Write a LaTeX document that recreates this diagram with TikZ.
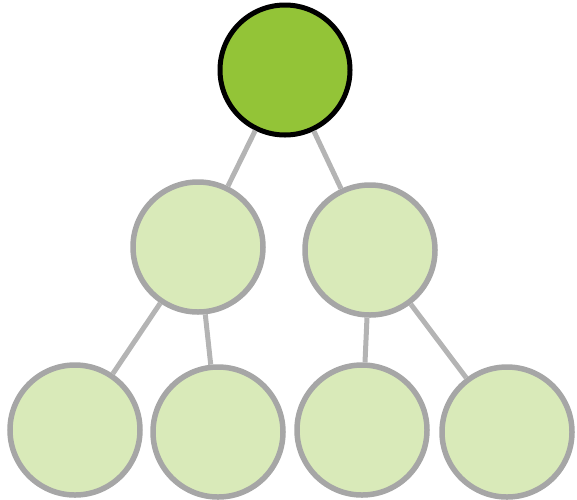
\documentclass[tikz,border=0pt]{standalone}
\begin{document}
\begin{tikzpicture}[x=1pt,y=-1pt,
  rootnode/.style={circle,draw=black,line width=5pt,fill={rgb,255:red,147;green,196;blue,55},minimum size=130pt,inner sep=0pt},
  leaf/.style={circle,draw={rgb,255:red,166;green,166;blue,166},line width=5.5pt,fill={rgb,255:red,217;green,234;blue,185},minimum size=130pt,inner sep=0pt},
  edge/.style={draw={rgb,255:red,180;green,180;blue,180},line width=5pt}]
\useasboundingbox (0,0) rectangle (577,499);
\node[rootnode] (r) at (285,70) {};
\node[leaf] (a) at (198,247) {};
\node[leaf] (b) at (370,250) {};
\node[leaf] (c) at (75,430) {};
\node[leaf] (d) at (218,432) {};
\node[leaf] (e) at (362,430) {};
\node[leaf] (f) at (507,432) {};
\draw[edge] (r) -- (a);
\draw[edge] (r) -- (b);
\draw[edge] (a) -- (c);
\draw[edge] (a) -- (d);
\draw[edge] (b) -- (e);
\draw[edge] (b) -- (f);
\end{tikzpicture}
\end{document}
